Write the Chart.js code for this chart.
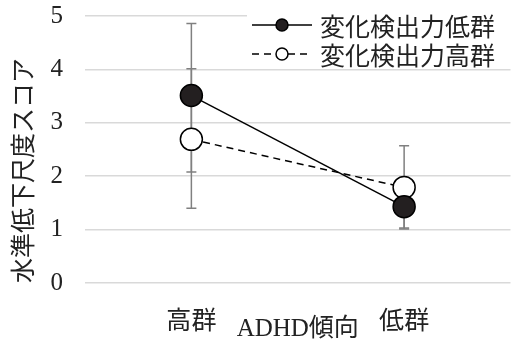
<!DOCTYPE html>
<html>
<head>
<meta charset="utf-8">
<style>
  html, body { margin: 0; padding: 0; background: #fff; }
  #wrap { width: 523px; height: 341px; position: relative; }
</style>
<script src="https://cdn.jsdelivr.net/npm/chart.js@4/dist/chart.umd.min.js"></script>
</head>
<body>
<div id="wrap"><canvas id="c" width="523" height="341"></canvas></div>
<script>
// ADHD傾向ごとの水準低下尺度スコア（平均値と誤差範囲）
const categories = ['高群', '低群'];
const seriesNames = ['変化検出力低群', '変化検出力高群'];
const lowDetect = [3.51, 1.43];
const highDetect = [2.69, 1.79];
// 誤差棒の下端・上端
const lowDetectErrMin = [2.08, 1.03];
const lowDetectErrMax = [4.86, 1.83];
const highDetectErrMin = [1.40, 1.01];
const highDetectErrMax = [4.01, 2.57];
const yTicks = [0, 1, 2, 3, 4, 5];

const SERIF = "'Liberation Serif', 'Noto Sans CJK JP', serif";
const CJK = "'Noto Sans CJK JP', sans-serif";
const TEXT = '#222';

const errorBars = {
  id: 'errorBars',
  beforeDatasetsDraw(chart) {
    const { ctx, scales: { x, y } } = chart;
    const ranges = [[lowDetectErrMin, lowDetectErrMax], [highDetectErrMin, highDetectErrMax]];
    ctx.save();
    ctx.strokeStyle = '#808080';
    ctx.lineWidth = 1.5;
    ranges.forEach(([mins, maxs]) => {
      categories.forEach((c, i) => {
        const px = x.getPixelForValue(i);
        const y0 = y.getPixelForValue(mins[i]);
        const y1 = y.getPixelForValue(maxs[i]);
        ctx.beginPath();
        ctx.moveTo(px, y0); ctx.lineTo(px, y1);
        ctx.moveTo(px - 5, y0); ctx.lineTo(px + 5, y0);
        ctx.moveTo(px - 5, y1); ctx.lineTo(px + 5, y1);
        ctx.stroke();
      });
    });
    ctx.restore();
  }
};

const lineLegend = {
  id: 'lineLegend',
  afterDraw(chart) {
    const { ctx } = chart;
    ctx.save();
    ctx.fillStyle = '#fff';
    ctx.fillRect(247, 0, 266, 64);
    chart.data.datasets.forEach((ds, i) => {
      const cy = 25 + i * 29;
      ctx.strokeStyle = '#000';
      ctx.lineWidth = 1.5;
      ctx.setLineDash(ds.borderDash || []);
      ctx.beginPath();
      ctx.moveTo(252, cy); ctx.lineTo(312, cy);
      ctx.stroke();
      ctx.setLineDash([]);
      ctx.beginPath();
      ctx.arc(282, cy, 6, 0, Math.PI * 2);
      ctx.fillStyle = ds.pointBackgroundColor;
      ctx.fill();
      ctx.stroke();
      ctx.fillStyle = TEXT;
      ctx.font = "25px " + CJK;
      ctx.textBaseline = 'middle';
      ctx.textAlign = 'left';
      ctx.fillText(ds.label, 320, cy + 1);
    });
    ctx.restore();
  }
};

new Chart(document.getElementById('c'), {
  type: 'line',
  data: {
    labels: categories,
    datasets: [
      {
        label: seriesNames[0],
        data: lowDetect,
        borderColor: '#000',
        borderWidth: 1.5,
        pointRadius: 11,
        pointHoverRadius: 11,
        pointBackgroundColor: '#231f20',
        pointBorderColor: '#000',
        pointBorderWidth: 1.5,
        tension: 0
      },
      {
        label: seriesNames[1],
        data: highDetect,
        borderColor: '#000',
        borderWidth: 1.5,
        borderDash: [7, 5],
        pointRadius: 11,
        pointHoverRadius: 11,
        pointBackgroundColor: '#fff',
        pointBorderColor: '#000',
        pointBorderWidth: 1.5,
        tension: 0
      }
    ]
  },
  options: {
    responsive: false,
    animation: false,
    events: [],
    layout: { padding: { left: 10, right: 0, top: 0, bottom: 0 } },
    plugins: {
      legend: { display: false },
      tooltip: { enabled: false }
    },
    scales: {
      x: {
        offset: true,
        grid: { display: false, drawTicks: false },
        border: { display: false },
        ticks: { color: TEXT, padding: 24, font: { family: CJK, size: 25, lineHeight: 1 } },
        title: {
          display: true, text: 'ADHD傾向', color: TEXT,
          font: { family: SERIF, size: 25, lineHeight: 1 },
          padding: { top: 0, bottom: -1 }
        },
        afterFit(scale) { scale.height = 58; }
      },
      y: {
        min: 0, max: 5,
        afterBuildTicks(scale) { scale.ticks = yTicks.map(v => ({ value: v })); },
        grid: { color: '#d9d9d9', lineWidth: 1.5, drawTicks: false },
        border: { display: false },
        ticks: { color: TEXT, padding: 22, font: { family: SERIF, size: 25, lineHeight: 1 } },
        title: {
          display: true, text: '水準低下尺度スコア', color: TEXT, align: 'start',
          font: { family: CJK, size: 25, lineHeight: 1 },
          padding: { top: 0, bottom: 0 }
        },
        afterFit(scale) { scale.width = 75; scale.paddingTop = 16; }
      }
    }
  },
  plugins: [errorBars, lineLegend]
});
</script>
</body>
</html>
